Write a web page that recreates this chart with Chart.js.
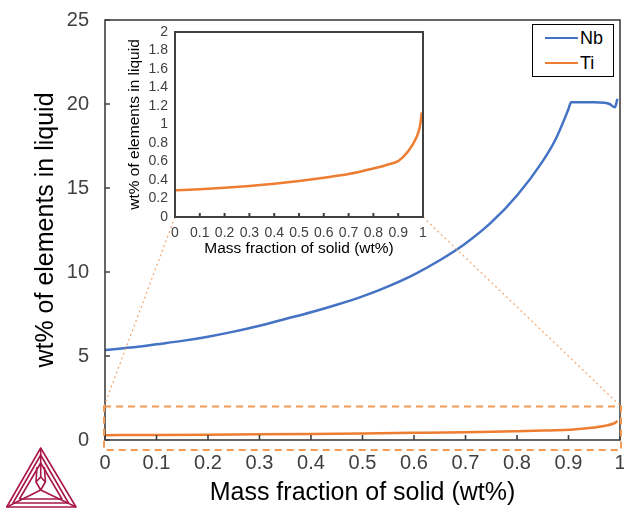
<!DOCTYPE html>
<html>
<head>
<meta charset="utf-8">
<script src="https://cdn.jsdelivr.net/npm/chart.js@4.4.1/dist/chart.umd.min.js"></script>
<style>
  html, body { margin: 0; padding: 0; background: #fff; }
  #wrap   { position: relative; width: 624px; height: 509px; overflow: hidden;
            font-family: "Liberation Sans", Arial, sans-serif; background: #fff; }
  #main   { position: absolute; left: 0; top: 0; }
  #inset  { position: absolute; left: 110px; top: 22px; }
  #legend { position: absolute; left: 532px; top: 24px; width: 80px; height: 51px;
            border: 1px solid #000; background: #fff; }
  .row    { position: absolute; left: 12px; height: 22px; display: flex; align-items: center;
            font-size: 18px; color: #000; }
  .swatch { width: 33px; height: 2.5px; margin-right: 2px; }
  #logo   { position: absolute; left: 4px; top: 446px; }
</style>
</head>
<body>
<div id="wrap">
  <canvas id="main" width="624" height="509"></canvas>
  <canvas id="inset" width="320" height="240"></canvas>
  <div id="legend"></div>
  <svg id="logo" width="76" height="64" viewBox="0 0 76 64" fill="none" stroke="#A8174A" stroke-width="1.6" stroke-linejoin="round">
    <path d="M36.7 2 L2.7 61 L72 61 Z"/>
    <path d="M36.7 9 L9 57 L64.5 57 Z"/>
    <path d="M36.7 17 L15.5 53 L58 53 Z"/>
    <path d="M33 21 L32 36 L36.7 44 L41.4 36 L40.4 21"/>
    <path d="M32 36 L36.7 31 L41.4 36"/>
    <path d="M36.7 44 L2.7 61 M36.7 44 L72 61 M36.7 2 L36.7 31"/>
  </svg>
</div>

<script>
/* ══════════════════════════════════════════
   Scheil solidification — Nb / Ti in liquid
   Main chart + zoomed inset for Ti
   ══════════════════════════════════════════ */

// ── Data ─────────────────────────────────
const seriesNames  = ["Nb", "Ti"];
const seriesColors = ["#4472C4", "#ED7D31"];

const nbSolid  = [0, 0.05, 0.1, 0.15, 0.2, 0.25, 0.3, 0.35, 0.4, 0.45, 0.5, 0.55, 0.6, 0.65,
                  0.7, 0.75, 0.8, 0.85, 0.875, 0.9, 0.905, 0.93, 0.95, 0.97, 0.98, 0.99, 0.995];
const nbLiquid = [5.35, 5.5, 5.7, 5.9, 6.15, 6.45, 6.8, 7.2, 7.6, 8.05, 8.55, 9.15, 9.85, 10.7,
                  11.7, 12.95, 14.55, 16.6, 17.9, 19.7, 20.1, 20.1, 20.1, 20.08, 20.0, 19.8, 20.3];

const tiSolid  = [0, 0.1, 0.2, 0.3, 0.4, 0.5, 0.6, 0.7, 0.8, 0.85, 0.9, 0.905,
                  0.92, 0.94, 0.96, 0.975, 0.985, 0.99, 0.995];
const tiLiquid = [0.29, 0.30, 0.315, 0.335, 0.36, 0.39, 0.425, 0.465, 0.525, 0.56, 0.605, 0.615,
                  0.65, 0.71, 0.79, 0.87, 0.95, 1.02, 1.13];

const xTicks      = [0, 0.1, 0.2, 0.3, 0.4, 0.5, 0.6, 0.7, 0.8, 0.9, 1];
const mainYTicks  = [0, 5, 10, 15, 20, 25];
const insetYTicks = [0, 0.2, 0.4, 0.6, 0.8, 1, 1.2, 1.4, 1.6, 1.8, 2];

const zoomBox = { low: -0.6, high: 2 };   // orange dashed region on the main chart

const FONT = "'Liberation Sans', Arial, sans-serif";

// ── Helpers ──────────────────────────────
const toPoints = (xs, ys) => xs.map((x, i) => ({ x, y: ys[i] }));

function lineSet(i, xs, ys, width) {
  return {
    label: seriesNames[i],
    data: toPoints(xs, ys),
    borderColor: seriesColors[i],
    borderWidth: width,
    pointRadius: 0,
    fill: false,
    cubicInterpolationMode: "monotone",
  };
}

const fixedTicks = list => scale => { scale.ticks = list.map(v => ({ value: v })); };

// fixed axis box size, no extra padding for overhanging labels
const fitX = h => s => { s.height = h; s.paddingLeft = 0; s.paddingRight = 0; };
const fitY = w => s => { s.width = w; s.paddingTop = 0; s.paddingBottom = 0; };

// frame round the plot area + inward tick marks
const frameTicks = {
  id: "frameTicks",
  afterDatasetsDraw(chart, args, opts) {
    const { ctx, chartArea: a, scales } = chart;
    ctx.save();
    ctx.strokeStyle = opts.color;
    ctx.lineWidth   = opts.width;
    ctx.strokeRect(a.left, a.top, a.right - a.left, a.bottom - a.top);
    ctx.beginPath();
    scales.x.ticks.forEach((t, i) => {
      const px = scales.x.getPixelForTick(i);
      ctx.moveTo(px, a.bottom);
      ctx.lineTo(px, a.bottom - opts.len);
    });
    if (opts.yTicks) {
      scales.y.ticks.forEach((t, i) => {
        const py = scales.y.getPixelForTick(i);
        ctx.moveTo(a.left, py);
        ctx.lineTo(a.left + opts.len, py);
      });
    }
    ctx.stroke();
    ctx.restore();
  }
};

// ── Inset chart (Ti only) ────────────────
const insetEl = document.getElementById("inset");
const insetChart = new Chart(insetEl, {
  type: "line",
  data: { datasets: [lineSet(1, tiSolid, tiLiquid, 2.5)] },
  plugins: [frameTicks],
  options: {
    responsive: false,
    animation: false,
    events: [],
    layout: { padding: { top: 10, right: 7 } },
    plugins: {
      legend: { display: false },
      tooltip: { enabled: false },
      frameTicks: { color: "#404040", width: 2, len: 4, yTicks: false },
    },
    scales: {
      x: {
        type: "linear", min: 0, max: 1,
        afterBuildTicks: fixedTicks(xTicks),
        afterFit: fitX(45),
        grid: { display: false, drawTicks: false },
        border: { display: false },
        ticks: { autoSkip: false, maxRotation: 0, padding: 8, color: "#404040",
                 font: { family: FONT, size: 14 }, callback: v => String(v) },
        title: { display: true, text: "Mass fraction of solid (wt%)", color: "#000",
                 font: { family: FONT, size: 15.5 }, padding: { bottom: 4 } },
      },
      y: {
        min: 0, max: 2,
        afterBuildTicks: fixedTicks(insetYTicks),
        afterFit: fitY(65),
        grid: { display: false, drawTicks: false },
        border: { display: false },
        ticks: { autoSkip: false, padding: 7, color: "#404040",
                 font: { family: FONT, size: 14 }, callback: v => String(v) },
        title: { display: true, text: "wt% of elements in liquid", color: "#000",
                 font: { family: FONT, size: 15.5 }, padding: { top: 15 } },
      },
    },
  },
});

// dashed zoom box and dotted lines to the inset corners
const zoomGuide = {
  id: "zoomGuide",
  afterDraw(chart) {
    const { ctx, scales: { x, y } } = chart;
    const left   = x.getPixelForValue(0) - 1;
    const right  = x.getPixelForValue(1) + 1;
    const top    = y.getPixelForValue(zoomBox.high);
    const bottom = y.getPixelForValue(zoomBox.low);

    ctx.save();
    ctx.strokeStyle = "#F19A55";
    ctx.lineWidth = 2;
    ctx.setLineDash([7, 5]);
    ctx.strokeRect(left, top, right - left, bottom - top);

    const ia = insetChart.chartArea;
    const ox = insetEl.offsetLeft, oy = insetEl.offsetTop;
    ctx.strokeStyle = "#F4A46B";
    ctx.lineWidth = 1.2;
    ctx.setLineDash([2, 3]);
    ctx.beginPath();
    ctx.moveTo(ox + ia.left, oy + ia.bottom);
    ctx.lineTo(left, top);
    ctx.moveTo(ox + ia.right, oy + ia.bottom);
    ctx.lineTo(right, top);
    ctx.stroke();
    ctx.restore();
  }
};

// ── Main chart ───────────────────────────
new Chart(document.getElementById("main"), {
  type: "line",
  data: {
    datasets: [
      lineSet(0, nbSolid, nbLiquid, 2.5),
      lineSet(1, tiSolid, tiLiquid, 2.5),
    ]
  },
  plugins: [frameTicks, zoomGuide],
  options: {
    responsive: false,
    animation: false,
    events: [],
    layout: { padding: { top: 20, right: 4 } },
    plugins: {
      legend: { display: false },
      tooltip: { enabled: false },
      frameTicks: { color: "#404040", width: 1.6, len: 5, yTicks: true },
    },
    scales: {
      x: {
        type: "linear", min: 0, max: 1,
        afterBuildTicks: fixedTicks(xTicks),
        afterFit: fitX(69),
        grid: { display: false, drawTicks: false },
        border: { display: false },
        ticks: { autoSkip: false, maxRotation: 0, padding: 11, color: "#404040",
                 font: { family: FONT, size: 20 }, callback: v => String(v) },
        title: { display: true, text: "Mass fraction of solid (wt%)", color: "#000",
                 font: { family: FONT, size: 25 }, padding: { bottom: 1 } },
      },
      y: {
        min: 0, max: 25,
        afterBuildTicks: fixedTicks(mainYTicks),
        afterFit: fitY(105),
        grid: { display: false, drawTicks: false },
        border: { display: false },
        ticks: { autoSkip: false, padding: 16, color: "#404040",
                 font: { family: FONT, size: 20 }, callback: v => String(v) },
        title: { display: true, text: "wt% of elements in liquid", color: "#000",
                 font: { family: FONT, size: 25 }, padding: { top: 31 } },
      },
    },
  },
});

// ── Legend ───────────────────────────────
document.getElementById("legend").innerHTML = seriesNames.map((name, i) => `
  <div class="row" style="top:${2 + i * 25}px">
    <div class="swatch" style="background:${seriesColors[i]}"></div>${name}
  </div>`).join("");
</script>
</body>
</html>
